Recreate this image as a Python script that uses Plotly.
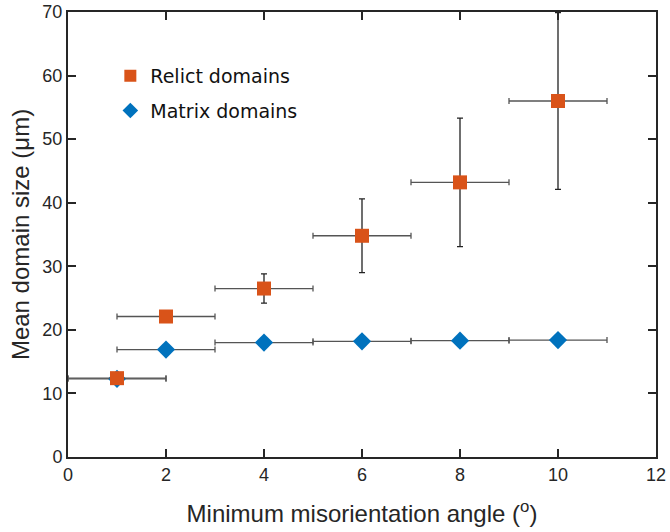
import plotly.graph_objects as go

angles = [1, 2, 4, 6, 8, 10]
angle_err = [1, 1, 1, 1, 1, 1]
relict_size = [12.4, 22.1, 26.5, 34.8, 43.2, 56.0]
relict_err = [0.3, 0.8, 2.3, 5.8, 10.1, 13.9]
matrix_size = [12.3, 16.9, 18.0, 18.2, 18.3, 18.4]
matrix_err = [0.5, 0.4, 0.4, 0.4, 0.4, 0.4]

font_family = "Liberation Sans, Arial, sans-serif"
legend_family = "DejaVu Sans, Verdana, sans-serif"

fig = go.Figure()
fig.add_trace(go.Scatter(
    x=angles, y=matrix_size, mode="markers", name="Matrix domains",
    legendrank=2, legendgroup="m",
    marker=dict(symbol="diamond", size=14, color="#0072BD"),
    error_x=dict(type="data", array=angle_err, color="#555555", thickness=1.3, width=3),
    error_y=dict(type="data", array=matrix_err, color="#222222", thickness=1.3, width=3),
))
fig.add_trace(go.Scatter(
    x=angles, y=relict_size, mode="markers", name="Relict domains",
    legendrank=1, legendgroup="r",
    marker=dict(symbol="square", size=14, color="#D95319"),
    error_x=dict(type="data", array=angle_err, color="#555555", thickness=1.3, width=3),
    error_y=dict(type="data", array=relict_err, color="#222222", thickness=1.3, width=3),
))

axis_common = dict(
    showline=True, linecolor="#262626", linewidth=2, mirror="ticks",
    ticks="inside", ticklen=8, tickwidth=2, tickcolor="#262626",
    showgrid=False, zeroline=False, automargin=False,
    tickfont=dict(family=font_family, size=18, color="#262626"),
)

fig.update_layout(
    width=670, height=532,
    margin=dict(l=68, r=14, t=12, b=75),
    plot_bgcolor="white", paper_bgcolor="white",
    font=dict(family=font_family, color="#262626"),
    xaxis=dict(range=[0, 12], dtick=2,
               title=dict(text="Minimum misorientation angle (<sup>o</sup>)",
                          font=dict(size=24), standoff=22),
               **axis_common),
    yaxis=dict(range=[0, 70], dtick=10,
               title=dict(text="Mean domain size (μm)", font=dict(size=24), standoff=6),
               **axis_common),
    legend=dict(x=0.072, y=0.899, xanchor="left", yanchor="top",
                font=dict(family=legend_family, size=19, color="#111111"),
                bgcolor="rgba(0,0,0,0)", tracegroupgap=7, itemsizing="constant",
                itemwidth=30),
)

fig.write_html("out.html")
